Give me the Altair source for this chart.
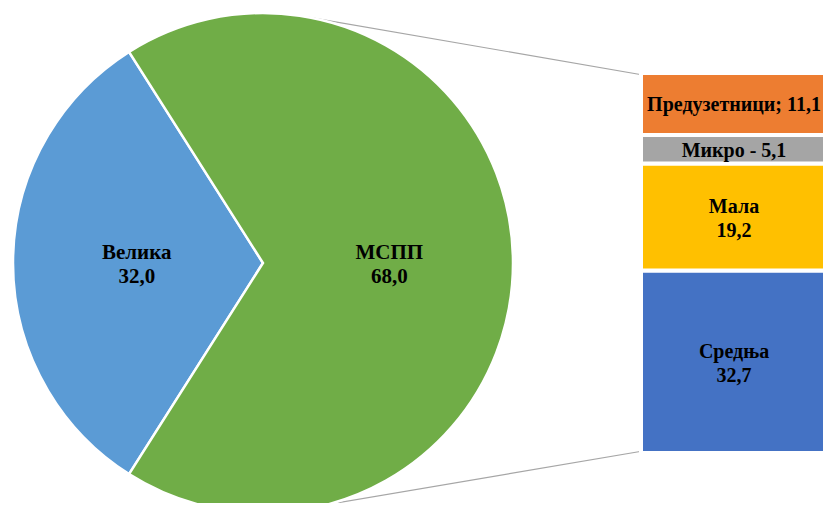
import math
import altair as alt
import pandas as pd

# ---- data ----
pie_names = ["Велика", "МСПП"]
pie_values = [32.0, 68.0]
pie_colors = ["#5B9BD5", "#70AD47"]

bar_names = ["Средња", "Мала", "Микро", "Предузетници"]   # bottom -> top
bar_values = [32.7, 19.2, 5.1, 11.1]
bar_seps = ["\n", "\n", " - ", "; "]
bar_colors = ["#4472C4", "#FFC000", "#A5A5A5", "#ED7D31"]


def fmt(v):
    return f"{v:.1f}".replace(".", ",")


# ---- geometry (chart coordinates) ----
W, H = 815, 495
CX, CY, R = 255, 255, 250
BAR_X0, BAR_X1 = 633, 830
BAR_BOTTOM, BAR_TOP = 445, 65
FONT = "Liberation Serif, Times New Roman, DejaVu Serif, serif"
FS = 21
BAR_FS = 20

pie_total = sum(pie_values)
start = 1.5 * math.pi - math.pi * pie_values[0] / pie_total

pie_df = pd.DataFrame({
    "name": pie_names,
    "value": pie_values,
    "order": list(range(len(pie_names))),
    "label": [f"{n}\n{fmt(v)}" for n, v in zip(pie_names, pie_values)],
})

bar_total = sum(bar_values)
lo, hi = [], []
acc = 0.0
for v in bar_values:
    lo.append(acc)
    acc += v
    hi.append(acc)
bar_df = pd.DataFrame({
    "name": bar_names,
    "value": bar_values,
    "lo": lo,
    "hi": hi,
    "mid": [(a + b) / 2 for a, b in zip(lo, hi)],
    "label": [f"{n}{s}{fmt(v)}" for n, s, v in zip(bar_names, bar_seps, bar_values)],
    "multi": ["\n" in s for s in bar_seps],
})

theta_scale = alt.Scale(range=[start, start + 2 * math.pi])
y_scale = alt.Scale(domain=[0, bar_total], range=[BAR_BOTTOM, BAR_TOP])

pie = alt.Chart(pie_df).mark_arc(stroke="white", strokeWidth=2.5).encode(
    theta=alt.Theta("value:Q", stack=True, scale=theta_scale),
    order=alt.Order("order:Q"),
    color=alt.Color("name:N", scale=alt.Scale(domain=pie_names, range=pie_colors), legend=None),
    x=alt.value(CX), y=alt.value(CY), radius=alt.value(R),
)

pie_text = alt.Chart(pie_df).mark_text(
    font=FONT, fontSize=FS, fontWeight="bold", color="black",
    lineBreak="\n", lineHeight=24, baseline="middle", align="center", dy=-10,
).encode(
    theta=alt.Theta("value:Q", stack=True, scale=theta_scale),
    order=alt.Order("order:Q"),
    text="label:N",
    x=alt.value(CX), y=alt.value(CY), radius=alt.value(R * 0.505),
)

# connector lines from the pie rim to the bar corners
a_top, a_bot = math.radians(10), math.radians(165)
conn_top = alt.Chart(pd.DataFrame({"k": [0]})).mark_rule(color="#A6A6A6", strokeWidth=1.2).encode(
    x=alt.value(CX + R * math.sin(a_top)), y=alt.value(CY - R * math.cos(a_top)),
    x2=alt.value(BAR_X0 + 2), y2=alt.value(BAR_TOP + 2),
)
conn_bot = alt.Chart(pd.DataFrame({"k": [0]})).mark_rule(color="#A6A6A6", strokeWidth=1.2).encode(
    x=alt.value(CX + R * math.sin(a_bot)), y=alt.value(CY - R * math.cos(a_bot)),
    x2=alt.value(BAR_X0 + 2), y2=alt.value(BAR_BOTTOM - 2),
)

bars = alt.Chart(bar_df).mark_rect(stroke="white", strokeWidth=4).encode(
    y=alt.Y("lo:Q", scale=y_scale, axis=None),
    y2="hi:Q",
    x=alt.value(BAR_X0), x2=alt.value(BAR_X1),
    color=alt.Color("name:N", scale=alt.Scale(domain=bar_names, range=bar_colors), legend=None),
)

label_x = (BAR_X0 + 2 + W) / 2 + 1
text_kw = dict(font=FONT, fontSize=BAR_FS, fontWeight="bold", color="black",
               lineBreak="\n", lineHeight=24, baseline="middle", align="center")

bar_text_multi = alt.Chart(bar_df).transform_filter("datum.multi").mark_text(
    dy=-10, **text_kw
).encode(
    y=alt.Y("mid:Q", scale=y_scale, axis=None),
    x=alt.value(label_x),
    text="label:N",
)
bar_text_single = alt.Chart(bar_df).transform_filter("!datum.multi").mark_text(
    dy=1.5, **text_kw
).encode(
    y=alt.Y("mid:Q", scale=y_scale, axis=None),
    x=alt.value(label_x),
    text="label:N",
)

chart = alt.layer(conn_top, conn_bot, pie, pie_text, bars, bar_text_multi, bar_text_single).resolve_scale(
    color="independent"
).properties(
    width=W, height=H, padding=0,
    autosize=alt.AutoSizeParams(type="none"),
).configure_view(stroke=None)

chart.save("out.html", embed_options={"renderer": "svg", "actions": False})
